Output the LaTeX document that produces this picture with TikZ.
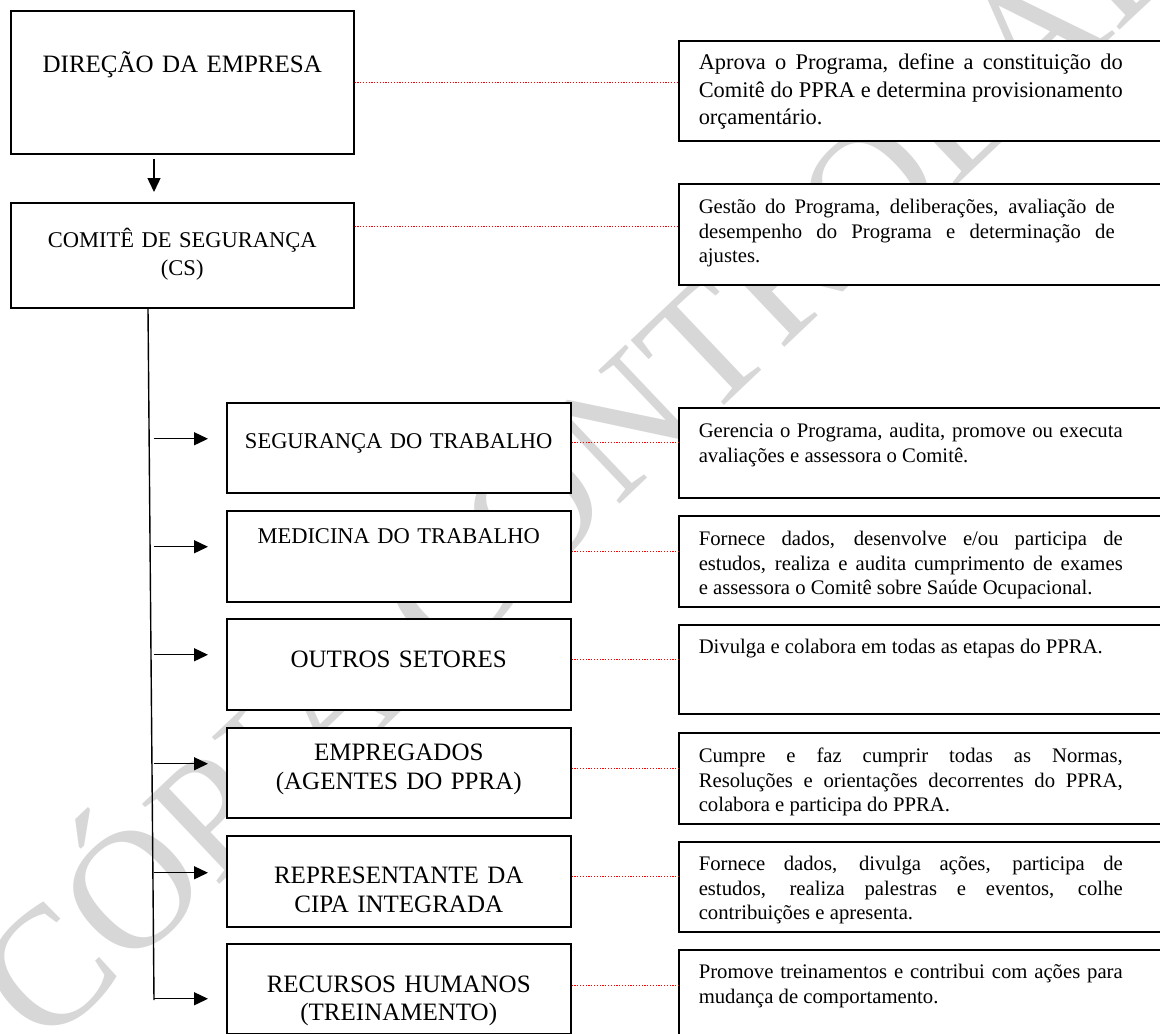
\documentclass[tikz,border=0pt]{standalone}
\usepackage{fontspec}
\setmainfont{Liberation Serif}
\usetikzlibrary{arrows.meta}
\definecolor{wmgray}{RGB}{215,215,215}
% justified description text, box runs on past the right edge
\newcommand{\desc}[2][424pt]{\parbox[t]{#1}{#2}\hspace*{\dimexpr 482pt-#1\relax}}
\begin{document}
\begin{tikzpicture}[x=1pt,y=1pt,yscale=-1,xscale=1,
  box/.style={draw, fill=white, line width=1.5pt, anchor=north west, inner xsep=0pt, inner ysep=0pt, align=center},
  topbox/.style={box, text width=343pt},
  secbox/.style={box, text width=344pt},
  descbox/.style={draw, fill=white, line width=1.5pt, anchor=north west, inner xsep=20pt, inner ysep=0pt,
    font=\fontsize{20.7}{24.5}\selectfont},
  bigtxt/.style={font=\fontsize{25}{29}\selectfont},
  smalltxt/.style={font=\fontsize{22.5}{28}\selectfont},
  arr/.style={line width=1.4pt, -{Triangle[length=14pt,width=13pt]}},
  dotline/.style={red, line width=1pt, dash pattern=on 1.2pt off 1.6pt},
  wmark/.style={text=wmgray, font=\fontsize{170}{170}\selectfont, inner sep=0pt}]
\useasboundingbox (0,0) rectangle (1160,1034);
\clip (0,0) rectangle (1160,1034);

% Watermark
\node[wmark, rotate=43.5] (wm) at (620,405) {CÓPIA CONTROLADA};

%Shape: Rectangle (top level)
\node[topbox, bigtxt, text height=62pt, text depth=81pt] (dir) at (10,10) {DIREÇÃO DA EMPRESA};
\node[topbox, smalltxt, text height=45pt, text depth=60pt] (cs) at (10,202) {COMITÊ DE SEGURANÇA\\(CS)};

%Shape: Rectangle (sectors)
\node[secbox, smalltxt, text height=46pt, text depth=44pt] (seg) at (226,402) {SEGURANÇA DO TRABALHO};
\node[secbox, smalltxt, text height=33pt, text depth=58pt] (med) at (226,510) {MEDICINA DO TRABALHO};
\node[secbox, bigtxt, text height=49pt, text depth=42pt] (out) at (226,618) {OUTROS SETORES};
\node[secbox, bigtxt, text height=33pt, text depth=57pt] (emp) at (226,727) {EMPREGADOS\\(AGENTES DO PPRA)};
\node[secbox, bigtxt, text height=48pt, text depth=43pt] (rep) at (226,835) {REPRESENTANTE DA\\CIPA INTEGRADA};
\node[secbox, font=\fontsize{25}{28}\selectfont, text height=49pt, text depth=41pt] (rh) at (226,943) {RECURSOS HUMANOS\\(TREINAMENTO)};

% Text Node (attributions)
\node[descbox, font=\fontsize{22.4}{27.5}\selectfont, text height=29pt, text depth=71pt] (d1) at (678,40)
  {\desc{Aprova o Programa, define a constituição do\linebreak Comitê do PPRA e determina provisionamento\linebreak orçamentário.}};
\node[descbox, text height=30pt, text depth=71pt] (d2) at (678,183)
  {\desc[416pt]{Gestão do Programa, deliberações, avaliação de\linebreak desempenho do Programa e determinação de\linebreak ajustes.}};
\node[descbox, text height=30pt, text depth=60pt] (d3) at (678,407)
  {\desc{Gerencia o Programa, audita, promove ou executa\linebreak avaliações e assessora o Comitê.}};
\node[descbox, text height=30pt, text depth=61pt] (d4) at (678,515)
  {\desc{Fornece dados, desenvolve e/ou participa de\linebreak estudos, realiza e audita cumprimento de exames\linebreak e assessora o Comitê sobre Saúde Ocupacional.}};
\node[descbox, text height=29pt, text depth=60pt] (d5) at (678,624)
  {\desc{Divulga e colabora em todas as etapas do PPRA.}};
\node[descbox, text height=30pt, text depth=61pt] (d6) at (678,732)
  {\desc{Cumpre e faz cumprir todas as Normas,\linebreak Resoluções e orientações decorrentes do PPRA,\linebreak colabora e participa do PPRA.}};
\node[descbox, text height=29pt, text depth=61pt] (d7) at (678,841)
  {\desc{Fornece dados, divulga ações, participa de\linebreak estudos, realiza palestras e eventos, colhe\linebreak contribuições e apresenta.}};
\node[descbox, text height=29pt, text depth=72pt] (d8) at (678,949)
  {\desc{Promove treinamentos e contribui com ações para\linebreak mudança de comportamento.}};

%Straight Lines
\draw[arr] ([xshift=144pt,yshift=4pt]dir.south west) -- ([xshift=144pt,yshift=-10pt]cs.north west);
\coordinate (tb) at (154,1000);
\draw[line width=1.4pt] ([xshift=138pt]cs.south west) -- (tb);
\draw[arr] ([xshift=-72pt,yshift=-9pt]seg.west) -- ([xshift=-18pt,yshift=-9pt]seg.west);
\draw[arr] ([xshift=-72pt,yshift=-9.5pt]med.west) -- ([xshift=-18pt,yshift=-9.5pt]med.west);
\draw[arr] ([xshift=-72pt,yshift=-9.5pt]out.west) -- ([xshift=-18pt,yshift=-9.5pt]out.west);
\draw[arr] ([xshift=-72pt,yshift=-9pt]emp.west) -- ([xshift=-18pt,yshift=-9pt]emp.west);
\draw[arr] ([xshift=-72pt,yshift=-8.5pt]rep.west) -- ([xshift=-18pt,yshift=-8.5pt]rep.west);
\draw[arr] ([xshift=-72pt,yshift=10pt]rh.west) -- ([xshift=-18pt,yshift=10pt]rh.west);

%Dotted links
\draw[dotline] (dir.east) -- (dir.east -| d1.west);
\draw[dotline] ([yshift=-28.5pt]cs.east) coordinate (c2) -- (c2 -| d2.west);
\draw[dotline] ([yshift=-5pt]seg.east) coordinate (c3) -- (c3 -| d3.west);
\draw[dotline] ([yshift=-4.5pt]med.east) coordinate (c4) -- (c4 -| d4.west);
\draw[dotline] ([yshift=-4.5pt]out.east) coordinate (c5) -- (c5 -| d5.west);
\draw[dotline] ([yshift=-4pt]emp.east) coordinate (c6) -- (c6 -| d6.west);
\draw[dotline] ([yshift=-4.5pt]rep.east) coordinate (c7) -- (c7 -| d7.west);
\draw[dotline] ([yshift=-3pt]rh.east) coordinate (c8) -- (c8 -| d8.west);

\end{tikzpicture}
\end{document}
